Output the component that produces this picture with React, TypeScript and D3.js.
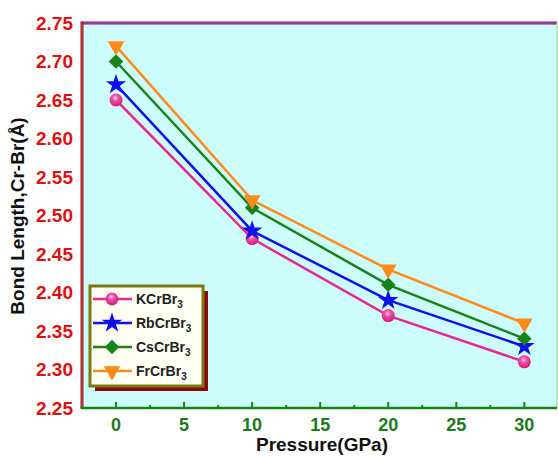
import React from "react";
import * as d3 from "d3";

const pressures = [0, 10, 20, 30];
const seriesNames = ["KCrBr3", "RbCrBr3", "CsCrBr3", "FrCrBr3"];
const kValues = [2.65, 2.47, 2.37, 2.31];
const rbValues = [2.67, 2.48, 2.39, 2.33];
const csValues = [2.7, 2.51, 2.41, 2.34];
const frValues = [2.72, 2.52, 2.43, 2.36];
const xTicks = [0, 5, 10, 15, 20, 25, 30];
const xMinorTicks = [2.5, 7.5, 12.5, 17.5, 22.5, 27.5];
const yTicks = [2.25, 2.3, 2.35, 2.4, 2.45, 2.5, 2.55, 2.6, 2.65, 2.7, 2.75];

const colors = ["#e8288e", "#1010e8", "#178217", "#ff8a1c"];
const markers = ["circle", "star", "diamond", "triangle"];
const allValues = [kValues, rbValues, csValues, frValues];

const W = 558;
const H = 457;
const left = 82;
const right = 557;
const top = 23;
const bottom = 408;

function Marker({ type, color, x, y }: { type: string; color: string; x: number; y: number }) {
  if (type === "circle") {
    return <circle cx={x} cy={y} r={6.5} fill="url(#sphere)" />;
  }
  let sym: any = d3.symbolStar;
  let size = 130;
  let rot = 0;
  if (type === "diamond") {
    sym = d3.symbolSquare;
    size = 105;
    rot = 45;
  } else if (type === "triangle") {
    sym = d3.symbolTriangle;
    size = 120;
    rot = 180;
  }
  const p = d3.symbol().type(sym).size(size)();
  return <path d={p || ""} fill={color} transform={`translate(${x},${y}) rotate(${rot})`} />;
}

export default function App() {
  const x = d3.scaleLinear().domain([-2.5, 32.4]).range([left, right]);
  const y = d3.scaleLinear().domain([2.25, 2.75]).range([bottom, top]);
  const line = d3
    .line<number>()
    .x((_, i) => x(pressures[i]))
    .y((d) => y(d))
    .curve(d3.curveLinear);

  const legendX = 90;
  const legendY = 286;
  const legendW = 113;
  const legendH = 100;
  const rowYs = [299, 323, 347, 371];

  return (
    <svg width={W} height={H} style={{ position: "absolute", left: 0, top: 0 }} fontFamily="Liberation Sans, Arial, sans-serif">
      <defs>
        <radialGradient id="sphere" cx="45%" cy="35%" r="65%">
          <stop offset="0%" stopColor="#ffd0ea" />
          <stop offset="35%" stopColor="#f050a8" />
          <stop offset="100%" stopColor="#d8157c" />
        </radialGradient>
      </defs>
      <rect x={0} y={0} width={W} height={H} fill="#ffffff" />
      <rect x={left} y={top} width={right - left} height={bottom - top} fill="#ccfcfc" />
      {/* frame */}
      <line x1={left} x2={right} y1={top} y2={top} stroke="#7a1a7a" strokeWidth={3} />
      <line x1={left} x2={right} y1={top} y2={top} stroke="#c070c0" strokeWidth={0.8} />
      <line x1={right} x2={right} y1={top} y2={bottom} stroke="#a8e8a8" strokeWidth={1.5} />
      <line x1={left} x2={left} y1={top - 1.5} y2={bottom} stroke="#a01818" strokeWidth={3} />
      <line x1={left} x2={left} y1={top} y2={bottom} stroke="#e06060" strokeWidth={0.8} />
      <line x1={left - 1.5} x2={right} y1={bottom} y2={bottom} stroke="#178217" strokeWidth={2.5} />
      {/* x ticks */}
      {xTicks.map((t) => (
        <g key={"xt" + t}>
          <line x1={x(t)} x2={x(t)} y1={bottom} y2={bottom - 6} stroke="#178217" strokeWidth={2} />
          <text x={x(t)} y={bottom + 23} textAnchor="middle" fontSize={18} fontWeight="bold" fill="#1a7a1a">
            {t}
          </text>
        </g>
      ))}
      {xMinorTicks.map((t) => (
        <line key={"xm" + t} x1={x(t)} x2={x(t)} y1={bottom} y2={bottom - 3} stroke="#178217" strokeWidth={2} />
      ))}
      {/* y tick labels */}
      {yTicks.map((t) => (
        <text key={"yt" + t} x={73} y={y(t) + 6.5} textAnchor="end" fontSize={19} fontWeight="bold" fill="#e01010">
          {t.toFixed(2)}
        </text>
      ))}
      {/* titles */}
      <text x={322} y={451} textAnchor="middle" fontSize={19} fontWeight="bold" fill="#111">
        Pressure(GPa)
      </text>
      <text
        transform={`translate(24,216) rotate(-90)`}
        textAnchor="middle"
        fontSize={19}
        fontWeight="bold"
        fill="#111"
      >
        Bond Length,Cr-Br(Å)
      </text>
      {/* series */}
      {allValues.map((vals, si) => (
        <path key={"l" + si} d={line(vals) || ""} fill="none" stroke={colors[si]} strokeWidth={2.5} />
      ))}
      {allValues.map((vals, si) =>
        vals.map((v, i) => (
          <Marker key={"m" + si + "-" + i} type={markers[si]} color={colors[si]} x={x(pressures[i])} y={y(v)} />
        ))
      )}
      {/* legend */}
      <rect x={legendX + 5} y={legendY + 5} width={legendW} height={legendH} fill="#8a0a0a" />
      <rect x={legendX} y={legendY} width={legendW} height={legendH} fill="#fffff4" stroke="#7a7a10" strokeWidth={3} />
      {seriesNames.map((name, i) => (
        <g key={"lg" + i}>
          <line x1={legendX + 3} x2={legendX + 42} y1={rowYs[i]} y2={rowYs[i]} stroke={colors[i]} strokeWidth={2.5} />
          <Marker type={markers[i]} color={colors[i]} x={legendX + 22} y={rowYs[i]} />
          <text x={legendX + 46} y={rowYs[i] + 5} fontSize={14} fontWeight="bold" fill="#222">
            {name.slice(0, -1)}
            <tspan fontSize={10} dy={4}>
              {name.slice(-1)}
            </tspan>
          </text>
        </g>
      ))}
    </svg>
  );
}
